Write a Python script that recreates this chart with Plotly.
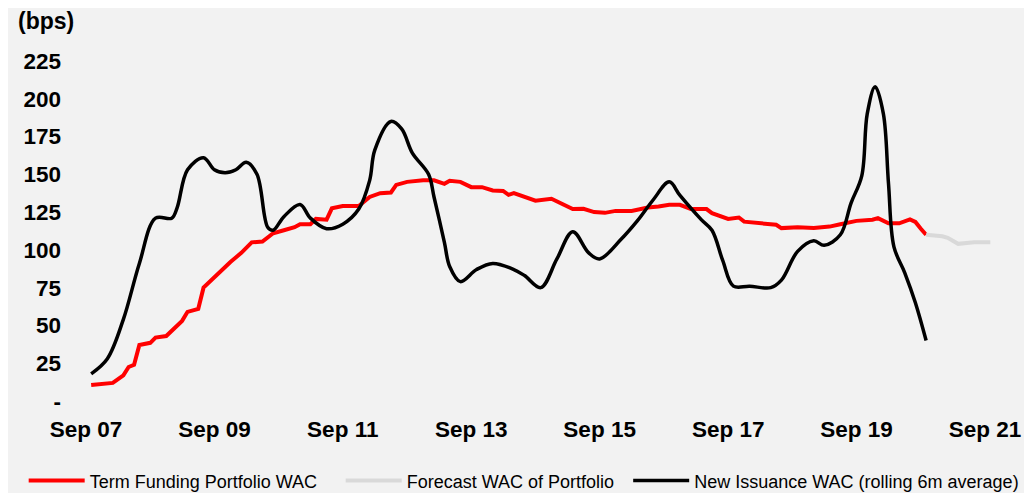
import plotly.graph_objects as go

# Term funding portfolio WAC (bps), monthly
red_dates = ['2007-10', '2007-12', '2008-02', '2008-04', '2008-05', '2008-06', '2008-07', '2008-09',
             '2008-10', '2008-12', '2009-02', '2009-03', '2009-04', '2009-06', '2009-07', '2009-08',
             '2009-10', '2009-12', '2010-02', '2010-04', '2010-06', '2010-08', '2010-10', '2010-12',
             '2011-01', '2011-03', '2011-04', '2011-06', '2011-07', '2011-09', '2011-12', '2012-02',
             '2012-04', '2012-06', '2012-07', '2012-09', '2012-12', '2013-02', '2013-04', '2013-05',
             '2013-07', '2013-09', '2013-11', '2014-01', '2014-03', '2014-04', '2014-05', '2014-07',
             '2014-09', '2014-12', '2015-02', '2015-04', '2015-06', '2015-08', '2015-10', '2015-12',
             '2016-03', '2016-06', '2016-08', '2016-10', '2016-12', '2017-02', '2017-05', '2017-06',
             '2017-09', '2017-11', '2017-12', '2018-03', '2018-06', '2018-07', '2018-10', '2019-01',
             '2019-04', '2019-06', '2019-09', '2019-12', '2020-01', '2020-03', '2020-05', '2020-07',
             '2020-08', '2020-09', '2020-10']
red_vals = [10.6, 11.5, 12, 17, 22.5, 24, 37, 38.5,
            42, 43, 50, 53, 59, 61, 75, 78.5,
            84.5, 92, 98, 105, 105.5, 111, 113, 115,
            117, 117, 120.5, 120, 127.5, 129, 129, 135,
            137.5, 138, 143, 145, 146, 146, 143.7, 145.7,
            145, 141.5, 141.5, 139.3, 139, 136.4, 137.5, 135,
            132.5, 133.8, 130, 127, 127.2, 125, 124.5, 125.8,
            125.8, 128, 128.7, 129.8, 129.8, 127, 127, 124.3,
            120.5, 121.4, 118.7, 117.6, 116.6, 114.4, 115, 114.4,
            115.4, 117, 119.2, 120, 121, 117.6, 117.6, 120.2,
            118.5, 114, 110]

# Forecast WAC of portfolio
fc_dates = ['2020-10', '2021-01', '2021-02', '2021-04', '2021-07', '2021-10']
fc_vals = [110, 109, 108, 104, 105, 105]

# New issuance WAC, rolling 6m average
blk_dates = ['2007-10', '2008-01', '2008-04', '2008-07', '2008-10', '2009-01', '2009-02', '2009-04',
             '2009-07', '2009-09', '2009-11', '2010-01', '2010-03', '2010-05', '2010-07', '2010-08',
             '2010-10', '2011-01', '2011-03', '2011-06', '2011-09', '2011-12', '2012-02', '2012-03',
             '2012-06', '2012-08', '2012-10', '2013-01', '2013-02', '2013-04', '2013-05', '2013-07',
             '2013-10', '2014-01', '2014-05', '2014-07', '2014-10', '2015-01', '2015-04', '2015-07',
             '2015-09', '2016-01', '2016-04', '2016-07', '2016-10', '2016-12', '2017-04', '2017-06',
             '2017-08', '2017-10', '2018-01', '2018-05', '2018-07', '2018-10', '2019-01', '2019-03',
             '2019-06', '2019-08', '2019-10', '2019-11', '2019-12-16', '2020-02', '2020-03', '2020-04',
             '2020-06', '2020-08', '2020-10']
blk_vals = [18, 28, 54, 91, 121, 121, 128, 153,
            161, 153, 151, 153, 158, 150, 115, 113,
            122, 130, 121, 114, 117, 127, 146, 166,
            185, 180, 164, 150, 135, 105, 89, 79,
            87, 91, 87, 83, 75, 94, 112, 98,
            94, 107, 119, 133, 145, 136, 120, 113,
            93, 76, 76, 75, 80, 99, 106, 103,
            110, 131, 149, 190, 208, 190, 144, 102,
            85, 65, 40]

y_ticks = [0, 25, 50, 75, 100, 125, 150, 175, 200, 225]
y_text = ['-', '25', '50', '75', '100', '125', '150', '175', '200', '225']
x_ticks = ['2007-09-01', '2009-09-01', '2011-09-01', '2013-09-01',
           '2015-09-01', '2017-09-01', '2019-09-01', '2021-09-01']
x_text = ['Sep 07', 'Sep 09', 'Sep 11', 'Sep 13', 'Sep 15', 'Sep 17', 'Sep 19', 'Sep 21']

fig = go.Figure()
fig.add_trace(go.Scatter(x=red_dates, y=red_vals, mode='lines', name='Term Funding Portfolio WAC',
                         line=dict(color='#ff0000', width=4)))
fig.add_trace(go.Scatter(x=fc_dates, y=fc_vals, mode='lines', name='Forecast WAC of Portfolio',
                         line=dict(color='#d9d9d9', width=4)))
fig.add_trace(go.Scatter(x=blk_dates, y=blk_vals, mode='lines', name='New Issuance WAC (rolling 6m average)',
                         line=dict(color='#000000', width=3.5, shape='spline', smoothing=1),
                         legend='legend2'))

leg = dict(orientation='h', xanchor='left', y=-0.22, yanchor='middle',
           font=dict(size=18), bgcolor='rgba(0,0,0,0)', itemwidth=56)

# page body has an 8px margin, so the figure is a bit smaller than the window
fig.update_layout(
    width=1024, height=485,
    margin=dict(l=54, r=12, t=30, b=92, autoexpand=False),
    paper_bgcolor='#f2f2f2', plot_bgcolor='#f2f2f2',
    font=dict(family='Arial, Liberation Sans, sans-serif', color='#000000'),
    showlegend=True,
    legend=dict(leg, x=-0.04, entrywidth=246, entrywidthmode='pixels'),
    legend2=dict(leg, x=0.591),
    annotations=[dict(text='(bps)', xref='paper', yref='paper', x=-0.048, y=1.047,
                      xanchor='left', yanchor='middle', showarrow=False,
                      font=dict(size=23, weight='bold'))],
)
fig.update_xaxes(range=['2007-04-18', '2022-03-19'], tickmode='array', tickvals=x_ticks, ticktext=x_text,
                 showgrid=False, zeroline=False, showline=False, ticks='', automargin=False,
                 tickfont=dict(size=22.5, weight='bold'), ticklabelstandoff=12)
fig.update_yaxes(range=[0, 240.2], tickmode='array', tickvals=y_ticks, ticktext=y_text,
                 showgrid=False, zeroline=False, showline=False, ticks='', automargin=False,
                 tickfont=dict(size=22.5, weight='bold'))

fig.write_html('out.html')
